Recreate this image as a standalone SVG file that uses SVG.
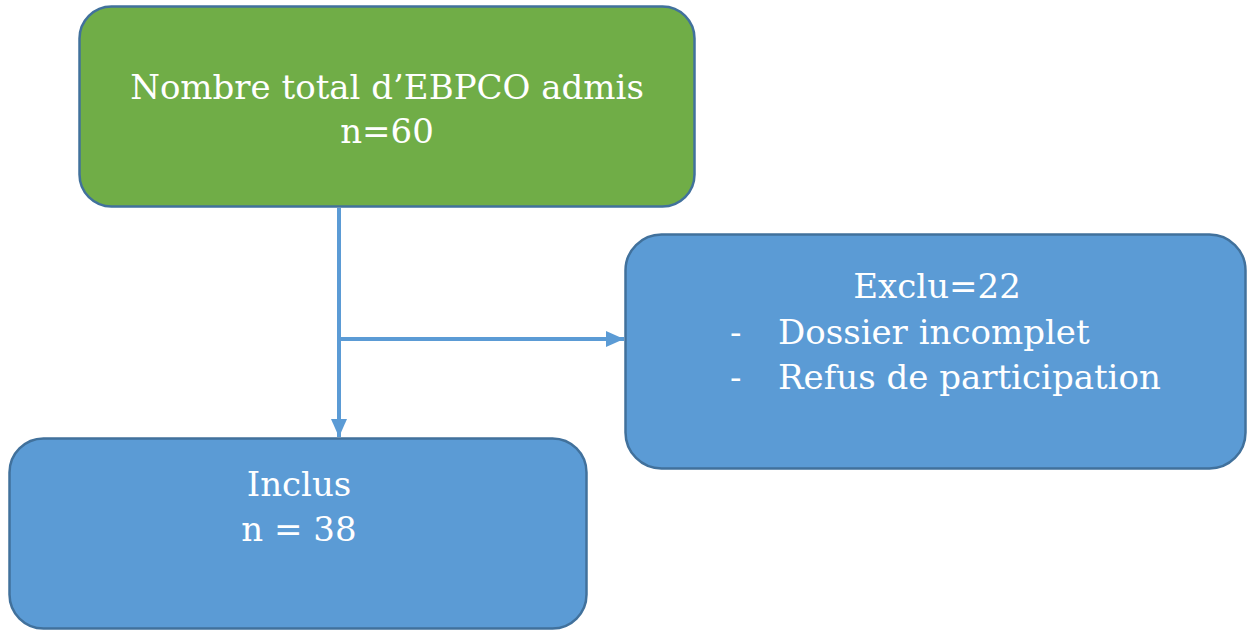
<svg xmlns="http://www.w3.org/2000/svg" width="1247" height="630" viewBox="0 0 1247 630">
<defs>
<style>
.box{stroke:#41719C;stroke-width:2.5}
.green{fill:#70AD47}
.blue{fill:#5B9BD5}
text{font-family:"DejaVu Serif","Liberation Serif",serif;fill:#FFFFFF;font-size:34px}
.c{text-anchor:middle}
.conn{stroke:#5B9BD5;stroke-width:4;fill:none}
</style>
<marker id="arr" viewBox="0 0 10 10" refX="10" refY="5" markerWidth="4.5" markerHeight="4" markerUnits="strokeWidth" orient="auto" preserveAspectRatio="none">
<path d="M0,0 L10,5 L0,10 Z" fill="#5B9BD5"/>
</marker>
</defs>
<rect width="1247" height="630" fill="#FFFFFF"/>
<g id="connectors">
<line class="conn" x1="339" y1="208" x2="339" y2="437" marker-end="url(#arr)"/>
<line class="conn" x1="339" y1="339" x2="624" y2="339" marker-end="url(#arr)"/>
</g>
<g id="node-total">
<rect class="box green" x="79.5" y="6.5" width="615" height="200" rx="32"/>
<text class="c" x="387" y="99">Nombre total d’EBPCO admis</text>
<text class="c" x="387" y="143">n=60</text>
</g>
<g id="node-exclu">
<rect class="box blue" x="625.5" y="234.5" width="620" height="234" rx="36"/>
<text class="c" x="937" y="298">Exclu=22</text>
<text x="730" y="344">-</text>
<text x="778" y="344">Dossier incomplet</text>
<text x="730" y="389">-</text>
<text x="778" y="389">Refus de participation</text>
</g>
<g id="node-inclus">
<rect class="box blue" x="9.5" y="438.5" width="577" height="190" rx="34"/>
<text class="c" x="299" y="496">Inclus</text>
<text class="c" x="299" y="541">n = 38</text>
</g>
</svg>
